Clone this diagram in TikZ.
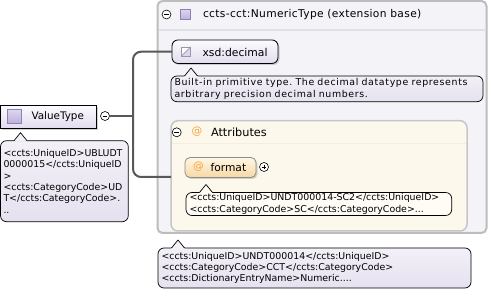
\documentclass[tikz,border=0pt]{standalone}
\usepackage{fontspec}
\setmainfont{DejaVu Sans}
\usetikzlibrary{shadows,calc}

\definecolor{linkgray}{HTML}{585858}
\definecolor{boxedge}{HTML}{BDBDBD}
\definecolor{extfill}{HTML}{F4F3F8}
\definecolor{sepline}{HTML}{E2E0E8}
\definecolor{lavtop}{HTML}{FCFBFE}
\definecolor{lavbot}{HTML}{E2DCEE}
\definecolor{notetop}{HTML}{F3F0F8}
\definecolor{notebot}{HTML}{E6E1EF}
\definecolor{attrfill}{HTML}{FDF8EC}
\definecolor{attrsep}{HTML}{F5EEDF}
\definecolor{attredge}{HTML}{C6C6C6}
\definecolor{notecream}{HTML}{FFFCF5}
\definecolor{attrtop}{HTML}{FFF7E6}
\definecolor{attrbot}{HTML}{F6D8A4}
\definecolor{atsign}{HTML}{F2A33A}
\definecolor{icontop}{HTML}{DED6EF}
\definecolor{iconbot}{HTML}{BDB0DB}
\definecolor{iconedge}{HTML}{8E80B8}

% pointer of a callout note: #1 note node, #2 fill colour
\newcommand{\calloutpointer}[2]{%
  \fill[fill=#2] ($(#1.north west)+(13,0.9)$) -- ($(#1.north west)+(20,-8)$) -- ($(#1.north west)+(27,0.9)$) -- cycle;
  \draw[line width=0.7pt, line join=round] ($(#1.north west)+(13.5,0)$) -- ($(#1.north west)+(20,-8)$) -- ($(#1.north west)+(26.5,0)$);
}

\begin{document}
\frenchspacing
\begin{tikzpicture}[x=1pt,y=-1pt,
  every node/.style={inner sep=0pt, outer sep=0pt},
  conn/.style={draw=linkgray, line width=2pt},
  extbox/.style={draw=boxedge, line width=2pt, fill=extfill, rounded corners=5pt, anchor=north west},
  attrbox/.style={draw=attredge, line width=1.5pt, fill=attrfill, rounded corners=7pt, anchor=north west},
  softshadow/.style={drop shadow={shadow xshift=1.5pt, shadow yshift=-1.5pt, opacity=0.35}},
  typebox/.style={draw=black, line width=0.9pt, top color=lavtop, bottom color=lavbot, softshadow, anchor=north west},
  simplebox/.style={draw=black, line width=0.8pt, rounded corners=6pt, top color=lavtop, bottom color=lavbot, softshadow},
  attrnode/.style={draw=black!45, line width=0.8pt, rounded corners=5pt, top color=attrtop, bottom color=attrbot, softshadow},
  typeicon/.style={draw=iconedge, line width=0.6pt, top color=icontop, bottom color=iconbot, minimum size=#1},
  simpleicon/.style={draw=black!40, line width=0.5pt, fill=white, minimum size=9pt,
    path picture={\fill[icontop] (path picture bounding box.south west) -- (path picture bounding box.north east) -- (path picture bounding box.south east) -- cycle;
      \draw[iconedge, line width=0.6pt] (path picture bounding box.south west) -- (path picture bounding box.north east);}},
  togglebtn/.style={circle, draw=black, fill=white, line width=0.6pt, minimum size=9pt},
  collapsebtn/.style={togglebtn, path picture={\draw[line width=0.6pt] ([xshift=-2.3pt]path picture bounding box.center) -- ([xshift=2.3pt]path picture bounding box.center);}},
  expandbtn/.style={togglebtn, path picture={\draw[line width=0.6pt] ([xshift=-2.3pt]path picture bounding box.center) -- ([xshift=2.3pt]path picture bounding box.center);
      \draw[line width=0.6pt] ([yshift=-2.3pt]path picture bounding box.center) -- ([yshift=2.3pt]path picture bounding box.center);}},
  lbl/.style={font=\fontsize{10.7pt}{12pt}\selectfont, anchor=west},
  atmark/.style={font=\fontsize{10.7pt}{12pt}\selectfont, text=atsign},
  note/.style={draw=black, line width=0.7pt, rounded corners=6pt, anchor=north west, align=left,
    inner xsep=3.5pt, inner ysep=0pt, font=\fontsize{9.4pt}{11.4pt}\selectfont},
  lavnote/.style={note, top color=notetop, bottom color=notebot},
  creamnote/.style={note, fill=notecream},
]
\path[use as bounding box] (0,0) rectangle (490,296);
\fill[white] (0,0) rectangle (490,296);

% extension compartment
\node[extbox, minimum width=329pt, minimum height=232pt] (ext) at (157.5,1) {};
\draw[sepline, line width=1.5pt] (158.5,30) -- (485.5,30);
\node[collapsebtn] (extbtn) at (166.5,14.5) {};
\node[typeicon=10pt] (exticon) at (185.5,14.5) {};
\node[lbl, font=\fontsize{10.7pt}{12pt}\selectfont\addfontfeature{LetterSpace=3}] (exttitle) at (203,14.5) {ccts-cct:NumericType (extension base)};

% base simple type
\node[simplebox, minimum width=106pt, minimum height=23.5pt] (xsd) at (225,51.7) {};
\node[simpleicon] (xsdicon) at (186,51.5) {};
\node[lbl, font=\fontsize{10.8pt}{12pt}\selectfont] (xsdlbl) at (202.5,52) {xsd:decimal};

\node[lavnote, text width=305pt, minimum height=25.7pt,
      font=\fontsize{9.4pt}{11.6pt}\selectfont\addfontfeature{LetterSpace=7}] (xsddoc) at (171,76)
  {Built-in primitive type. The decimal datatype represents\\arbitrary precision decimal numbers.};
\calloutpointer{xsddoc}{notetop}

% attributes compartment
\node[attrbox, minimum width=296pt, minimum height=110.3pt] (attr) at (171,120.7) {};
\draw[attrsep, line width=1pt] (172,143.3) -- (466,143.3);
\node[collapsebtn] (attrbtn) at (176.7,132.3) {};
\node[atmark] (attrat) at (197,132) {@};
\node[lbl, font=\fontsize{11.3pt}{12pt}\selectfont] (attrlbl) at (211,132.3) {Attributes};

\node[attrnode, minimum width=71pt, minimum height=20pt] (fmt) at (220.5,167.5) {};
\node[atmark] (fmtat) at (198.5,167) {@};
\node[lbl] (fmtlbl) at (210.5,167.5) {format};
\node[expandbtn] (fmtbtn) at (264,167) {};

\node[creamnote, text width=258.7pt, minimum height=23pt] (fmtdoc) at (186,192.5)
  {<ccts:UniqueID>UNDT000014-SC2</ccts:UniqueID>\\<ccts:CategoryCode>SC</ccts:CategoryCode>...};
\calloutpointer{fmtdoc}{notecream}

% documentation of the extension
\node[lavnote, text width=306pt, minimum height=40pt] (extdoc) at (158,248)
  {<ccts:UniqueID>UNDT000014</ccts:UniqueID>\\<ccts:CategoryCode>CCT</ccts:CategoryCode>\\<ccts:DictionaryEntryName>Numeric....};
\calloutpointer{extdoc}{notetop}

% complex type ValueType
\node[typebox, minimum width=96pt, minimum height=23pt] (vt) at (0.5,105.3) {};
\node[typeicon=14pt] (vticon) at (14.5,116.5) {};
\node[lbl, font=\fontsize{10.4pt}{12pt}\selectfont] (vtlbl) at (31.5,116.5) {ValueType};
\node[collapsebtn] (vtbtn) at (105,116) {};

\node[lavnote, inner xsep=3pt, text width=121.8pt, minimum height=81pt] (vtdoc) at (0.5,140.7)
  {<ccts:UniqueID>UBLUDT\\0000015</ccts:UniqueID\\>\\<ccts:CategoryCode>UD\\T</ccts:CategoryCode>.\\..};
\calloutpointer{vtdoc}{notetop}

% connectors
\coordinate (fork) at (133,116);
\coordinate (attrin) at (attr.west |- 0,177);
\draw[conn] (vtbtn.east) -- (fork);
\draw[conn, rounded corners=8pt] (xsd.west) -| (fork) |- (attrin);
\end{tikzpicture}
\end{document}
